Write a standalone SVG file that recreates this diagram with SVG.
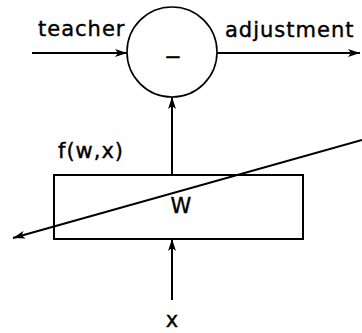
<svg xmlns="http://www.w3.org/2000/svg" width="362" height="333" viewBox="0 0 362 333">
<defs>
<marker id="ah" viewBox="0 0 12 8" refX="12" refY="4" markerWidth="12" markerHeight="8" markerUnits="userSpaceOnUse" orient="auto">
<path d="M0,0 L12,4 L0,8 L3,4 Z" fill="#000"/>
</marker>
<style>
.lbl{font-family:"DejaVu Sans",sans-serif;font-size:21px;fill:#000;stroke:#000;stroke-width:0.4px;letter-spacing:1px}
.ln{stroke:#000;stroke-width:2;fill:none}
</style>
</defs>
<rect width="362" height="333" fill="#fff"/>
<g id="sum">
<circle cx="172" cy="52" r="45" fill="#fff" stroke="#000" stroke-width="1.6"/>
<text class="lbl" x="173" y="64" text-anchor="middle" style="letter-spacing:0">−</text>
</g>
<g id="net">
<rect x="54" y="175" width="249" height="64" fill="none" stroke="#000" stroke-width="2"/>
<text class="lbl" x="181" y="213" text-anchor="middle" style="letter-spacing:0">W</text>
</g>
<g id="labels">
<text class="lbl" x="38" y="36">teacher</text>
<text class="lbl" x="225" y="37">adjustment</text>
<text class="lbl" x="58" y="158">f(w,x)</text>
<text class="lbl" x="172" y="327" text-anchor="middle" style="letter-spacing:0">x</text>
</g>
<g id="connectors">
<line class="ln" x1="32" y1="53" x2="127" y2="53" marker-end="url(#ah)"/>
<line class="ln" x1="217" y1="53" x2="360" y2="53" marker-end="url(#ah)"/>
<line class="ln" x1="172" y1="175" x2="172" y2="97" marker-end="url(#ah)"/>
<line class="ln" x1="172" y1="300" x2="172" y2="239" marker-end="url(#ah)"/>
<line class="ln" x1="362" y1="140" x2="13" y2="238" stroke-width="1.6" marker-end="url(#ah)"/>
</g>
</svg>
